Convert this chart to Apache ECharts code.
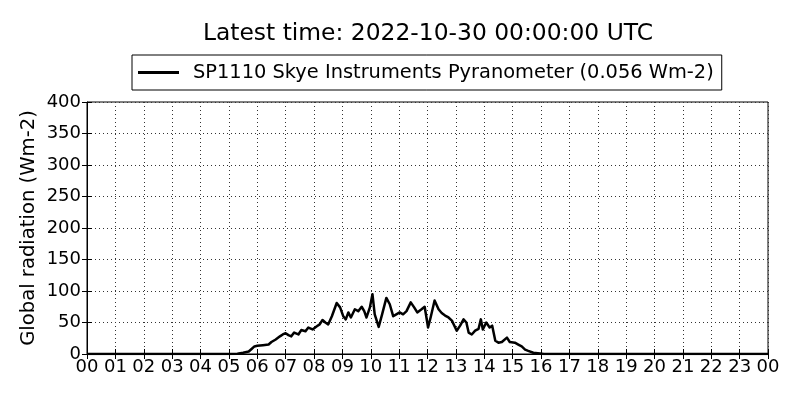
<!DOCTYPE html>
<html>
<head>
<meta charset="utf-8">
<script src="https://cdn.jsdelivr.net/npm/echarts@6/dist/echarts.min.js"></script>
<style>html,body{margin:0;padding:0;background:#fff}#c{width:800px;height:400px}</style>
</head>
<body>
<div id="c"></div>
<script>
const titleText = 'Latest time: 2022-10-30 00:00:00 UTC';
const seriesName = 'SP1110 Skye Instruments Pyranometer (0.056 Wm-2)';
const yAxisName = 'Global radiation (Wm-2)';
// hours since 00:00 UTC
const hours = [0, 5.0, 5.3, 5.5, 5.7, 5.8, 5.9, 6.0, 6.2, 6.4, 6.5, 6.65, 6.8, 6.9, 7.0, 7.1, 7.2, 7.3, 7.45, 7.55, 7.7, 7.8, 7.95, 8.1, 8.2, 8.3, 8.4, 8.5, 8.63, 8.8, 8.92, 9.03, 9.12, 9.21, 9.3, 9.44, 9.56, 9.68, 9.77, 9.85, 9.97, 10.06, 10.14, 10.28, 10.4, 10.55, 10.67, 10.79, 10.9, 11.02, 11.14, 11.26, 11.41, 11.53, 11.64, 11.79, 11.9, 12.02, 12.11, 12.25, 12.39, 12.5, 12.62, 12.74, 12.86, 12.92, 13.03, 13.15, 13.27, 13.37, 13.45, 13.56, 13.68, 13.8, 13.88, 13.95, 14.07, 14.19, 14.28, 14.39, 14.5, 14.62, 14.8, 14.9, 15.08, 15.2, 15.32, 15.44, 15.55, 15.73, 15.97, 16.1, 24];
const radiation = [0, 0, 0.5, 2, 4, 8, 12, 13, 14, 15, 19, 23, 28, 31, 33, 30, 28, 34, 31, 38, 36, 42, 39, 44, 47, 54, 50, 47, 60, 81, 74, 60, 55, 66, 58, 71, 68, 75, 68, 58, 74, 95, 63, 43, 63, 89, 79, 60, 63, 66, 63, 68, 82, 74, 66, 71, 75, 42, 58, 85, 71, 65, 61, 58, 53, 54, 37, 45, 55, 50, 34, 31, 37, 40, 55, 39, 50, 42, 45, 21, 18, 19, 26, 19, 18, 15, 12, 7, 5, 2, 1, 0, 0];
const xTicks = ['00','01','02','03','04','05','06','07','08','09','10','11','12','13','14','15','16','17','18','19','20','21','22','23','00'];

const FONT = 'DejaVu Sans';
const chart = echarts.init(document.getElementById('c'), null, {renderer: 'canvas'});
const tickStyle = {show: true, inside: true, length: 5, lineStyle: {color: '#000', width: 1}};
const gridLine = {show: true, lineStyle: {color: '#333', type: [1, 3], width: 1}};
chart.setOption({
  animation: false,
  backgroundColor: '#fff',
  textStyle: {fontFamily: FONT},
  title: {
    text: titleText, left: 423, top: 17, textAlign: 'center',
    textStyle: {fontFamily: FONT, fontSize: 23.4, fontWeight: 'normal', color: '#000'}
  },
  legend: {
    left: 132, top: 55,
    padding: [7, 8, 7, 6],
    borderColor: '#000', borderWidth: 1,
    itemWidth: 41, itemHeight: 3, itemGap: 10,
    icon: 'rect',
    textStyle: {fontFamily: FONT, fontSize: 19.4, color: '#000', lineHeight: 21, padding: [0, 0, 0, 9]},
    data: [seriesName]
  },
  grid: {left: 87, right: 32, top: 102, bottom: 46, show: true, borderColor: '#000', borderWidth: 1, backgroundColor: 'transparent'},
  xAxis: [{
    type: 'value', min: 0, max: 24, interval: 1,
    axisLine: {show: true, lineStyle: {color: '#000', width: 1}},
    axisTick: tickStyle,
    axisLabel: {color: '#000', fontFamily: FONT, fontSize: 18, margin: 4,
      formatter: v => xTicks[Math.round(v)]},
    splitLine: gridLine
  }, {
    type: 'value', min: 0, max: 24, interval: 1, position: 'top',
    axisLine: {show: false}, axisTick: tickStyle, axisLabel: {show: false}, splitLine: {show: false}
  }],
  yAxis: [{
    type: 'value', min: 0, max: 400, interval: 50,
    name: yAxisName, nameLocation: 'middle', nameGap: 48, nameMoveOverlap: false,
    nameTextStyle: {fontFamily: FONT, fontSize: 19.6, color: '#000'},
    axisLine: {show: true, lineStyle: {color: '#000', width: 1}},
    axisTick: tickStyle,
    axisLabel: {color: '#000', fontFamily: FONT, fontSize: 18, margin: 6},
    splitLine: gridLine
  }, {
    type: 'value', min: 0, max: 400, interval: 50, position: 'right',
    axisLine: {show: false}, axisTick: tickStyle, axisLabel: {show: false}, splitLine: {show: false}
  }],
  series: [{
    name: seriesName, type: 'line', xAxisIndex: 0, yAxisIndex: 0,
    data: hours.map((h, i) => [h, radiation[i]]),
    symbol: 'none', showSymbol: false,
    itemStyle: {color: '#000'},
    lineStyle: {color: '#000', width: 2.5, join: 'round'}
  }]
});
</script>
</body>
</html>
